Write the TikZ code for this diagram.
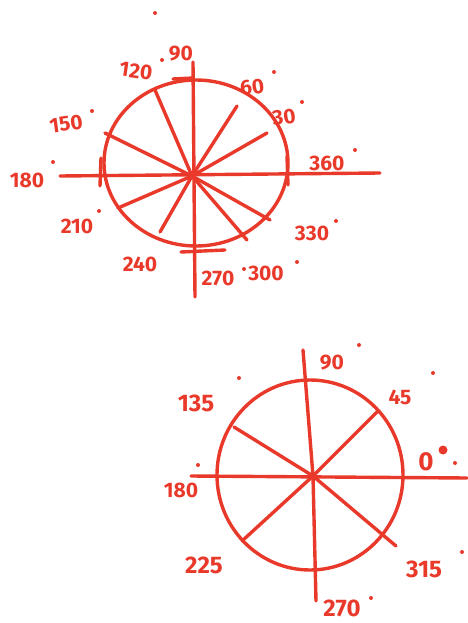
\documentclass[tikz,border=0pt]{standalone}
\usepackage{fontspec}
\setmainfont{Fira Sans}
\definecolor{pen}{HTML}{E8392A}
\begin{document}
\begin{tikzpicture}[x=1pt,y=-1pt,
  ink/.style={draw=pen,line width=3.4pt,line cap=round,line join=round},
  lbl/.style={text=pen,font=\bfseries\fontsize{21}{21}\selectfont,inner sep=0pt},
  dgr/.style={circle,fill=pen,inner sep=0pt,minimum size=4pt}]
\useasboundingbox (0,0) rectangle (467,623);
% ---------- top circle ----------
\coordinate (h1) at (192,176);
\draw[ink] (196,163) ellipse [x radius=92, y radius=83];
\coordinate (axL) at (60,176); \coordinate (axR) at (380,173);
\coordinate (axT) at (193,62); \coordinate (axB) at (195,297);
\draw[ink] (axL) -- (axR);
\draw[ink] (axT) -- (axB);
\coordinate (tl1) at (101,158); \coordinate (tl2) at (100,186);
\draw[ink] (tl1) -- (tl2);
\coordinate (tr1) at (287,156); \coordinate (tr2) at (288,185);
\draw[ink] (tr1) -- (tr2);
\coordinate (tt1) at (173,79); \coordinate (tt2) at (193,78);
\draw[ink] (tt1) -- (tt2);
\coordinate (tb1) at (181,252); \coordinate (tb2) at (225,250);
\draw[ink] (tb1) -- (tb2);
\foreach \p in {(155,90),(237,106),(267,133),(105,133),(118,208),(160,232),(247,240),(270,220)}
  \draw[ink] (h1) -- \p;
\node[lbl] (t90) at (181,54) {90};
\node[lbl,rotate=-8] (t120) at (136,71) {120};
\node[dgr] (d120) at (162,60) {};
\node[lbl,rotate=8] (t60) at (252,87) {60};
\node[dgr] (d60) at (274,72) {};
\node[lbl,rotate=8] (t30) at (284,117) {30};
\node[dgr] (d30) at (302,102) {};
\node[lbl,rotate=8] (t150) at (66,124) {150};
\node[dgr] (d150) at (92,111) {};
\node[lbl] (t180) at (27,180) {180};
\node[dgr] (d180) at (53,162) {};
\node[lbl] (t210) at (77,226) {210};
\node[dgr] (d210) at (99,211) {};
\node[lbl] (t240) at (140,264) {240};
\node[lbl] (t270) at (218,278) {270};
\node[dgr] (d270) at (244,269) {};
\node[lbl] (t300) at (266,273) {300};
\node[dgr] (d300) at (297,262) {};
\node[lbl] (t330) at (312,233) {330};
\node[dgr] (d330) at (336,221) {};
\node[lbl] (t360) at (327,163) {360};
\node[dgr] (d360) at (355,150) {};
\node[dgr] (d0) at (155,13) {};
% ---------- bottom circle ----------
\coordinate (h2) at (313,476);
\draw[ink] (310,475) ellipse [x radius=93, y radius=95];
\coordinate (bxL) at (191,476); \coordinate (bxR) at (467,478);
\coordinate (bxT) at (303,350); \coordinate (bxB) at (316,601);
\draw[ink] (bxL) -- (bxR);
\draw[ink] (bxT) -- (h2) -- (bxB);
\foreach \p in {(234,427),(377,412),(242,541),(396,546)}
  \draw[ink] (h2) -- \p;
\node[lbl] (b90) at (332,363) {90};
\node[dgr] (e90) at (359,345) {};
\node[lbl,font=\bfseries\fontsize{24}{24}\selectfont] (b135) at (196,403) {135};
\node[dgr] (e135) at (239,378) {};
\node[lbl] (b45) at (400,397) {45};
\node[dgr] (e45) at (433,373) {};
\node[lbl,font=\bfseries\fontsize{26}{26}\selectfont] (b0) at (426,462) {0};
\node[dgr,minimum size=9pt] (e0) at (443,450) {};
\node[dgr] (e0b) at (455,463) {};
\node[lbl] (b180) at (181,490) {180};
\node[dgr] (e180) at (198,465) {};
\node[lbl,font=\bfseries\fontsize{24}{24}\selectfont] (b225) at (204,565) {225};
\node[lbl,font=\bfseries\fontsize{24}{24}\selectfont] (b315) at (424,569) {315};
\node[dgr] (e315) at (462,552) {};
\node[lbl,font=\bfseries\fontsize{24}{24}\selectfont] (b270) at (342,608) {270};
\node[dgr] (e270) at (371,598) {};
\end{tikzpicture}
\end{document}
